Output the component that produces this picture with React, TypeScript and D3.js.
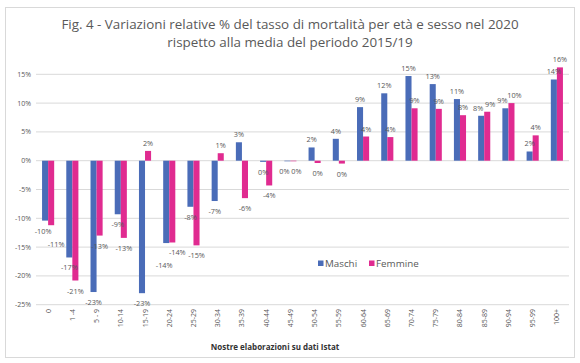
import React from "react";
import * as d3 from "d3";

const categories = [
  "0", "1 -4", "5 - 9", "10-14", "15-19", "20-24", "25-29", "30-34", "35-39", "40-44", "45-49",
  "50-54", "55-59", "60-64", "65-69", "70-74", "75-79", "80-84", "85-89", "90-94", "95-99", "100+",
];
const maschi = [
  -10.4, -16.8, -22.8, -9.3, -23.0, -14.3, -8.0, -7.0, 3.2, -0.2, -0.1,
  2.3, 3.8, 9.3, 11.7, 14.7, 13.3, 10.7, 7.8, 9.1, 1.6, 14.1,
];
const femmine = [
  -11.2, -20.8, -13.0, -13.4, 1.7, -14.2, -14.7, 1.3, -6.5, -4.3, -0.1,
  -0.4, -0.5, 4.2, 4.1, 9.1, 9.0, 7.9, 8.5, 10.0, 4.4, 16.2,
];
const yTicks = [-25, -20, -15, -10, -5, 0, 5, 10, 15];
const seriesNames = ["Maschi", "Femmine"];
const seriesColors = ["#4a6cb8", "#e02b90"];
const titleLines = [
  "Fig. 4 - Variazioni relative % del tasso di mortalità per età e sesso nel 2020",
  "rispetto alla media del periodo 2015/19",
];
const caption = "Nostre elaborazioni su dati Istat";

const W = 580;
const H = 363;
const FONT = "'Open Sans', sans-serif";
const GREY = "#595959";

const fmt = (v: number) => {
  const r = Math.round(v);
  return (r === 0 ? 0 : r) + "%";
};

const App = () => {
  const x = d3.scaleBand<string>().domain(categories).range([36, 569]).paddingInner(0.5).paddingOuter(0.25);
  const sub = d3.scaleBand<string>().domain(seriesNames).range([0, x.bandwidth()]);
  const y = d3.scaleLinear().domain([-25, 15]).range([304.7, 74.3]);
  const series = [maschi, femmine];
  const bw = sub.bandwidth();

  // labels sit outside the bar end; colliding pairs get pushed apart
  const labels = categories.map((c, i) => {
    const pos = series.map((vals, s) => {
      const v = vals[i];
      const bx = (x(c) ?? 0) + (sub(seriesNames[s]) ?? 0) + bw / 2;
      return { x: bx, y: v >= 0 ? y(v) - 5 : y(v) + 13, v };
    });
    const [m, f] = pos;
    if (Math.abs(m.y - f.y) < 12) {
      if (m.v < -1 && f.v < -1) {
        const lo = m.y <= f.y ? f : m;
        const hi = lo === f ? m : f;
        lo.y = hi.y + 13;
        m.x -= 2;
        f.x += 5;
      } else {
        m.x -= 3;
        f.x += 3;
      }
    }
    return pos;
  });

  return (
    <svg width={W} height={H} style={{ position: "absolute", left: 0, top: 0, background: "#fff" }} fontFamily={FONT}>
      <rect x={5.5} y={7.5} width={569} height={350} fill="#fff" stroke="#d9d9d9" />
      {titleLines.map((t, i) => (
        <text key={t} x={290} y={29 + i * 18} textAnchor="middle" fontSize={13.4} fill={GREY}>
          {t}
        </text>
      ))}
      {yTicks.map((t) => (
        <g key={t}>
          <line x1={36} x2={569} y1={y(t)} y2={y(t)} stroke="#d9d9d9" strokeWidth={1} />
          <text x={31} y={y(t) + 2.5} textAnchor="end" fontSize={7} fill={GREY}>
            {t}%
          </text>
        </g>
      ))}
      {series.map((vals, s) => (
        <g key={seriesNames[s]}>
          {vals.map((v, i) => {
            const bx = (x(categories[i]) ?? 0) + (sub(seriesNames[s]) ?? 0);
            const y0 = y(0);
            const yv = y(v);
            return (
              <rect key={i} x={bx} y={Math.min(y0, yv)} width={bw} height={Math.abs(yv - y0)} fill={seriesColors[s]} />
            );
          })}
        </g>
      ))}
      {labels.map((pair, i) =>
        pair.map((l, s) => (
          <text key={`${i}-${s}`} x={l.x} y={l.y} textAnchor="middle" fontSize={7.3} fill={GREY}>
            {fmt(l.v)}
          </text>
        ))
      )}
      {categories.map((c) => {
        const cx = (x(c) ?? 0) + x.bandwidth() / 2;
        return (
          <text key={c} transform={`translate(${cx + 2.5},309) rotate(-90)`} textAnchor="end" fontSize={7} fill={GREY}>
            {c}
          </text>
        );
      })}
      {seriesNames.map((n, i) => {
        const lx = i === 0 ? 318 : 369;
        return (
          <g key={n}>
            <rect x={lx} y={260.5} width={5.5} height={5.5} fill={seriesColors[i]} />
            <text x={lx + 7} y={267} fontSize={9.8} fill={GREY}>
              {n}
            </text>
          </g>
        );
      })}
      <text x={275} y={350} textAnchor="middle" fontSize={8} fontWeight="bold" fill="#333">
        {caption}
      </text>
    </svg>
  );
};

export default App;
